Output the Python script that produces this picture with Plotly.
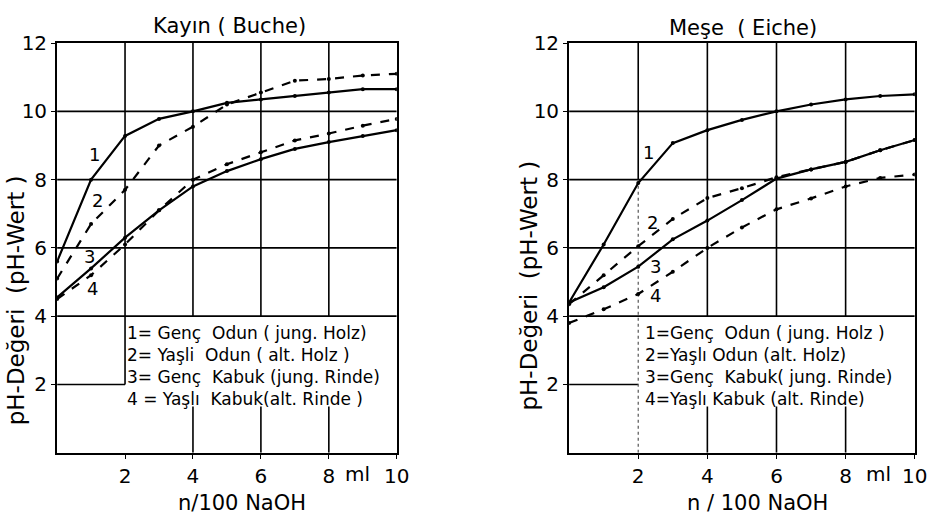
import plotly.graph_objects as go

# ---------------- data ----------------
x_vals = [0, 1, 2, 3, 4, 5, 6, 7, 8, 9, 10]

# Kayın (Buche)
kayin_1 = [5.6, 8.0, 9.28, 9.78, 10.0, 10.25, 10.35, 10.45, 10.55, 10.65, 10.65]
kayin_2 = [5.1, 6.7, 7.7, 9.0, 9.55, 10.2, 10.55, 10.9, 10.95, 11.05, 11.1]
kayin_3 = [4.55, 5.4, 6.3, 7.1, 7.8, 8.25, 8.6, 8.9, 9.1, 9.28, 9.45]
kayin_4 = [4.5, 5.2, 6.1, 7.1, 8.0, 8.45, 8.8, 9.15, 9.35, 9.58, 9.78]

# Meşe (Eiche)
mese_1 = [4.4, 6.1, 7.9, 9.07, 9.45, 9.75, 10.0, 10.2, 10.35, 10.45, 10.5]
mese_2 = [4.35, 5.2, 6.05, 6.85, 7.46, 7.75, 8.07, 8.3, 8.52, 8.86, 9.16]
mese_3 = [4.4, 4.85, 5.45, 6.25, 6.8, 7.4, 8.03, 8.3, 8.52, 8.86, 9.16]
mese_4 = [3.8, 4.2, 4.65, 5.3, 6.0, 6.6, 7.13, 7.45, 7.8, 8.05, 8.15]

x_ticks = [2, 4, 6, 8, 10]
x_ticktext = ["2", "4", "6", "8", "10"]
y_ticks = [2, 4, 6, 8, 10, 12]

legend_left = ["1= Genç  Odun ( jung. Holz)", "2= Yaşli  Odun ( alt. Holz )",
               "3= Genç  Kabuk (jung. Rinde)", "4 = Yaşlı  Kabuk(alt. Rinde )"]
legend_right = ["1=Genç  Odun ( jung. Holz )", "2=Yaşlı Odun (alt. Holz)",
                "3=Genç  Kabuk( jung. Rinde)", "4=Yaşlı Kabuk (alt. Rinde)"]

# curve number labels (x, y) per panel
lab_left = [(1.1, 8.75, "1"), (1.2, 7.4, "2"), (0.95, 5.75, "3"), (1.05, 4.8, "4")]
lab_right = [(2.3, 8.8, "1"), (2.42, 6.75, "2"), (2.5, 5.45, "3"), (2.5, 4.6, "4")]

FONT = "DejaVu Sans, sans-serif"
styles = ["solid", "dash", "solid", "dash"]

fig = go.Figure()

def add_series(series, xa, ya):
    for s, dash in zip(series, styles):
        fig.add_trace(go.Scatter(
            x=x_vals, y=s, xaxis=xa, yaxis=ya, mode="lines+markers",
            line=dict(color="black", width=2.2, dash=dash),
            marker=dict(color="black", size=4), showlegend=False))

add_series([kayin_1, kayin_2, kayin_3, kayin_4], "x", "y")
add_series([mese_1, mese_2, mese_3, mese_4], "x2", "y2")

shapes = []

def grid(xref, yref, right_panel):
    line = dict(color="black", width=1.6)
    for yv in [10, 8, 6, 4]:
        shapes.append(dict(type="line", xref=xref, yref=yref, x0=0, x1=10, y0=yv, y1=yv, line=line, layer="below"))
    shapes.append(dict(type="line", xref=xref, yref=yref, x0=0, x1=2, y0=2, y1=2, line=line, layer="below"))
    if right_panel:
        shapes.append(dict(type="line", xref=xref, yref=yref, x0=2, x1=2, y0=8, y1=12, line=line, layer="below"))
        shapes.append(dict(type="line", xref=xref, yref=yref, x0=2, x1=2, y0=0, y1=8,
                           line=dict(color="#555", width=1.2, dash="dot"), layer="below"))
    else:
        shapes.append(dict(type="line", xref=xref, yref=yref, x0=2, x1=2, y0=2, y1=12, line=line, layer="below"))
    for xv in [4, 6, 8]:
        shapes.append(dict(type="line", xref=xref, yref=yref, x0=xv, x1=xv, y0=4, y1=12, line=line, layer="below"))
        shapes.append(dict(type="line", xref=xref, yref=yref, x0=xv, x1=xv, y0=0, y1=1.35, line=line, layer="below"))

grid("x", "y", False)
grid("x2", "y2", True)

annotations = []
for xref, yref, lines, xpos, mlx in [("x", "y", legend_left, 2.0, 8.85), ("x2", "y2", legend_right, 2.15, 8.95)]:
    annotations.append(dict(x=xpos, y=3.85, xref=xref, yref=yref, text="<br>".join(lines),
                            showarrow=False, xanchor="left", yanchor="top", align="left",
                            font=dict(family=FONT, size=17, color="black")))
    annotations.append(dict(x=mlx, y=0, xref=xref, yref=yref, text="ml", showarrow=False,
                            yanchor="middle", yshift=-21, font=dict(family=FONT, size=20, color="black")))

for lst, xref, yref in [(lab_left, "x", "y"), (lab_right, "x2", "y2")]:
    for xv, yv, t in lst:
        annotations.append(dict(x=xv, y=yv, xref=xref, yref=yref, text=t, showarrow=False,
                                font=dict(family=FONT, size=18, color="black")))

def pan(text, x, y, size, angle=0, yanchor="middle"):
    annotations.append(dict(x=x, y=y, xref="paper", yref="paper", text=text, showarrow=False,
                            xanchor="center", yanchor=yanchor, textangle=angle,
                            font=dict(family=FONT, size=size, color="black")))

pan("Kayın ( Buche)", 0.2482, 1.0, 21, yanchor="top")
pan("Meşe  ( Eiche)", 0.8045, 0.996, 21, yanchor="top")
pan("n/100 NaOH", 0.2623, 0.0267, 21)
pan("n / 100 NaOH", 0.8197, 0.0267, 21)
pan("pH-Değeri  (pH-Wert )", 0.0175, 0.4283, 23, -90)
pan("pH-Değeri  (pH-Wert )", 0.5728, 0.4578, 23, -90)

axis_common = dict(range=[0, 10], tickvals=x_ticks, ticktext=x_ticktext, showgrid=False,
                   showline=True, linecolor="black", linewidth=2, mirror=True, zeroline=False,
                   ticks="outside", ticklen=4, tickcolor="black",
                   tickfont=dict(family=FONT, size=20, color="black"))
yaxis_common = dict(range=[0, 12], tickvals=y_ticks, showgrid=False,
                    showline=True, linecolor="black", linewidth=2, mirror=True, zeroline=False,
                    ticks="outside", ticklen=4, tickcolor="black",
                    tickfont=dict(family=FONT, size=20, color="black"))

fig.update_layout(
    width=937, height=516,
    margin=dict(l=0, r=0, t=0, b=0),
    paper_bgcolor="white", plot_bgcolor="white",
    xaxis=dict(domain=[0.0618, 0.4294], anchor="y", **axis_common),
    yaxis=dict(domain=[0.1256, 0.9383], anchor="x", **yaxis_common),
    xaxis2=dict(domain=[0.6159, 0.99], anchor="y2", **axis_common),
    yaxis2=dict(domain=[0.1256, 0.9383], anchor="x2", **yaxis_common),
    shapes=shapes, annotations=annotations,
)

post = (
    "document.documentElement.style.overflow='hidden';"
    "document.body.style.margin='0';document.body.style.overflow='hidden';"
    "var d=document.getElementsByClassName('plotly-graph-div')[0];"
    "d.style.position='fixed';d.style.top='0px';d.style.left='0px';"
)
fig.write_html("out.html", post_script=post, config={"displayModeBar": False})
